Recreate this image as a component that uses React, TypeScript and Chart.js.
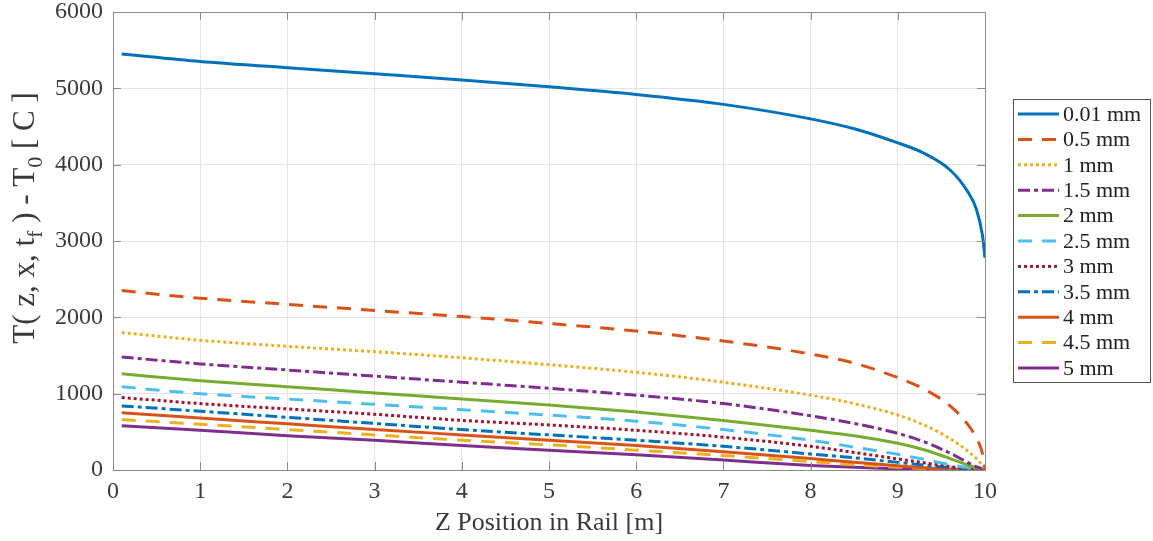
import React, { useEffect, useRef } from "react";
import { Chart, registerables } from "chart.js";

Chart.register(...registerables);

const xPositions = [0.1, 1, 2, 3, 4, 5, 6, 7, 8, 8.5, 9, 9.3, 9.6, 9.8, 9.9, 9.97, 10];

const seriesLabels = ["0.01 mm", "0.5 mm", "1 mm", "1.5 mm", "2 mm", "2.5 mm", "3 mm", "3.5 mm", "4 mm", "4.5 mm", "5 mm"];

const s001 = [5450, 5350, 5270, 5190, 5110, 5020, 4920, 4790, 4600, 4470, 4285, 4150, 3930, 3650, 3420, 3080, 2780];
const s05 = [2350, 2250, 2170, 2090, 2010, 1920, 1820, 1690, 1520, 1400, 1210, 1060, 840, 600, 420, 220, 0];
const s1 = [1800, 1700, 1620, 1550, 1470, 1380, 1280, 1150, 980, 870, 720, 590, 410, 250, 150, 60, 0];
const s15 = [1480, 1390, 1310, 1230, 1150, 1070, 980, 870, 710, 610, 480, 370, 220, 100, 45, 15, 0];
const s2 = [1260, 1170, 1090, 1010, 930, 850, 760, 650, 520, 450, 350, 265, 150, 65, 28, 8, 0];
const s25 = [1090, 1000, 930, 860, 790, 720, 640, 530, 390, 300, 205, 140, 70, 30, 12, 4, 0];
const s3 = [950, 870, 800, 730, 650, 590, 520, 430, 310, 230, 145, 95, 45, 18, 8, 2, 0];
const s35 = [840, 770, 690, 610, 530, 460, 390, 310, 210, 160, 100, 65, 30, 12, 5, 1, 0];
const s4 = [750, 680, 605, 530, 460, 390, 320, 240, 150, 100, 55, 30, 12, 5, 2, 0, 0];
const s45 = [660, 600, 530, 460, 390, 330, 260, 190, 110, 70, 35, 20, 8, 3, 1, 0, 0];
const s5 = [580, 520, 450, 390, 320, 260, 200, 130, 60, 35, 15, 8, 3, 1, 0, 0, 0];

const seriesValues = [s001, s05, s1, s15, s2, s25, s3, s35, s4, s45, s5];

const seriesColors = ["#0072BD", "#D95319", "#EDB120", "#7E2F8E", "#77AC30", "#4DBEEE", "#A2142F", "#0072BD", "#D95319", "#EDB120", "#7E2F8E"];
const seriesDashes: number[][] = [[], [14, 10], [3, 3], [12, 4, 4, 4], [], [14, 10], [3, 3], [12, 4, 4, 4], [], [14, 10], []];

const xTicks = [0, 1, 2, 3, 4, 5, 6, 7, 8, 9, 10];
const yTicks = [0, 1000, 2000, 3000, 4000, 5000, 6000];

const FONT = "'Liberation Serif', 'DejaVu Serif', serif";
const TEXT = "#3a3a3a";

const framePlugin = {
  id: "frame",
  afterDatasetsDraw(chart: any) {
    const { ctx, chartArea: a, scales } = chart;
    ctx.save();
    ctx.strokeStyle = "#8a8a8a";
    ctx.lineWidth = 1;
    ctx.strokeRect(Math.round(a.left) + 0.5, Math.round(a.top) + 0.5, Math.round(a.right - a.left), Math.round(a.bottom - a.top));
    ctx.beginPath();
    for (const t of xTicks) {
      const px = Math.round(scales.x.getPixelForValue(t)) + 0.5;
      ctx.moveTo(px, a.bottom);
      ctx.lineTo(px, a.bottom - 8);
      ctx.moveTo(px, a.top);
      ctx.lineTo(px, a.top + 8);
    }
    for (const t of yTicks) {
      const py = Math.round(scales.y.getPixelForValue(t)) + 0.5;
      ctx.moveTo(a.left, py);
      ctx.lineTo(a.left + 8, py);
      ctx.moveTo(a.right, py);
      ctx.lineTo(a.right - 8, py);
    }
    ctx.stroke();
    ctx.restore();
  },
  afterDraw(chart: any) {
    const { ctx } = chart;
    // y-axis title with subscripts
    ctx.save();
    ctx.fillStyle = TEXT;
    ctx.textBaseline = "alphabetic";
    const main = `31px ${FONT}`;
    const sub = `22px ${FONT}`;
    const parts: [string, boolean][] = [
      ["T( z, x, t", false],
      ["f", true],
      [" ) - T", false],
      ["0", true],
      [" [ C ]", false],
    ];
    let total = 0;
    for (const [t, s] of parts) {
      ctx.font = s ? sub : main;
      total += ctx.measureText(t).width;
    }
    ctx.translate(34, 218);
    ctx.rotate(-Math.PI / 2);
    let x = -total / 2;
    for (const [t, s] of parts) {
      ctx.font = s ? sub : main;
      ctx.fillText(t, x, s ? 8 : 0);
      x += ctx.measureText(t).width;
    }
    ctx.restore();

    // legend
    ctx.save();
    const bx = 1013, by = 99, bw = 137, bh = 283;
    ctx.fillStyle = "#fff";
    ctx.fillRect(bx, by, bw, bh);
    ctx.strokeStyle = "#555";
    ctx.lineWidth = 1;
    ctx.strokeRect(bx + 0.5, by + 0.5, bw, bh);
    ctx.font = `22px ${FONT}`;
    ctx.textBaseline = "middle";
    const rowH = 25.4;
    seriesLabels.forEach((lab, i) => {
      const y = 114 + i * rowH;
      ctx.strokeStyle = seriesColors[i];
      ctx.lineWidth = 3;
      ctx.setLineDash(seriesDashes[i]);
      ctx.beginPath();
      ctx.moveTo(1018, y);
      ctx.lineTo(1059, y);
      ctx.stroke();
      ctx.setLineDash([]);
      ctx.fillStyle = "#222";
      ctx.fillText(lab, 1063, y + 1);
    });
    ctx.restore();
  },
};

export default function App() {
  const ref = useRef<HTMLCanvasElement>(null);
  useEffect(() => {
    if (!ref.current) return;
    const chart = new Chart(ref.current, {
      type: "line",
      data: {
        datasets: seriesLabels.map((lab, i) => ({
          label: lab,
          data: xPositions.map((x, j) => ({ x, y: seriesValues[i][j] })),
          borderColor: seriesColors[i],
          backgroundColor: seriesColors[i],
          borderWidth: 3,
          borderDash: seriesDashes[i],
          pointRadius: 0,
          fill: false,
          cubicInterpolationMode: "monotone" as const,
        })),
      },
      options: {
        responsive: false,
        animation: false,
        layout: { padding: { top: 12, right: 168, left: 0, bottom: 0 } },
        plugins: { legend: { display: false }, tooltip: { enabled: false } },
        scales: {
          x: {
            type: "linear",
            min: 0,
            max: 10,
            afterFit: (s: any) => { s.height = 71; s.paddingLeft = 0; s.paddingRight = 0; },
            afterBuildTicks: (s: any) => { s.ticks = xTicks.map((v) => ({ value: v })); },
            grid: { color: "#e4e4e4", drawTicks: false },
            border: { display: false },
            ticks: { color: TEXT, font: { family: FONT, size: 24 }, padding: 7, maxRotation: 0, callback: (v: any) => String(v) },
            title: { display: true, text: "Z Position in Rail [m]", color: TEXT, font: { family: FONT, size: 26 }, padding: { top: 0, bottom: 2 } },
          },
          y: {
            min: 0,
            max: 6000,
            afterFit: (s: any) => { s.width = 113; s.paddingTop = 0; s.paddingBottom = 0; },
            afterBuildTicks: (s: any) => { s.ticks = yTicks.map((v) => ({ value: v })); },
            grid: { color: "#e4e4e4", drawTicks: false },
            border: { display: false },
            ticks: { color: TEXT, font: { family: FONT, size: 24 }, padding: 10, callback: (v: any) => String(v) },
          },
        },
      },
      plugins: [framePlugin],
    });
    return () => chart.destroy();
  }, []);
  return (
    <div style={{ position: "fixed", left: 0, top: 0, width: 1153, height: 541, background: "#fff" }}>
      <canvas ref={ref} width={1153} height={541} style={{ width: 1153, height: 541 }} />
    </div>
  );
}
